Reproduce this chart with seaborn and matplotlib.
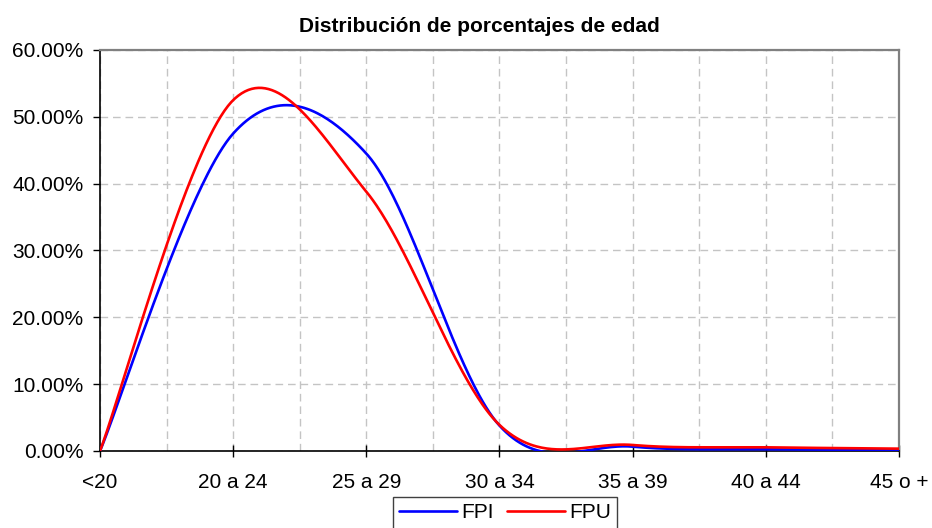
import numpy as np
import pandas as pd
import matplotlib
matplotlib.use("Agg")
import matplotlib.pyplot as plt
import seaborn as sns
from matplotlib.ticker import FixedLocator, MultipleLocator, FuncFormatter

# ---- data ----
categories = ["<20", "20 a 24", "25 a 29", "30 a 34", "35 a 39", "40 a 44", "45 o +"]
fpi = [0.0, 47.5, 44.5, 3.8, 0.65, 0.25, 0.2]
fpu = [0.0, 52.5, 38.8, 3.9, 0.9, 0.55, 0.35]
y_ticks = [0, 10, 20, 30, 40, 50, 60]
title = "Distribución de porcentajes de edad"
series_names = ["FPI", "FPU"]
series_colors = {"FPI": "#0000ff", "FPU": "#ff0000"}

sns.set_theme(style="white")
plt.rcParams["font.family"] = ["Liberation Sans", "DejaVu Sans"]
plt.rcParams["text.color"] = "black"
plt.rcParams["axes.labelcolor"] = "black"
plt.rcParams["xtick.color"] = "black"
plt.rcParams["ytick.color"] = "black"

fig = plt.figure(figsize=(9.32, 5.28), dpi=100)
ax = fig.add_axes([100 / 932, 77 / 528, 799 / 932, 401 / 528])
ax.set_xlim(0, len(categories) - 1)
ax.set_ylim(y_ticks[0], y_ticks[-1])


def excel_smooth(xs, ys, n=80):
    """Excel-style smoothed line: cubic Bezier per segment with 1/6 handles
    computed in display space, handles capped at half the segment length."""
    pts = ax.transData.transform(np.column_stack([xs, ys]).astype(float))
    m = len(pts)
    out = []
    for i in range(m - 1):
        p0 = pts[max(i - 1, 0)]
        p1 = pts[i]
        p2 = pts[i + 1]
        p3 = pts[min(i + 2, m - 1)]
        seg = np.linalg.norm(p2 - p1)
        h1 = (p2 - p0) / 6.0
        h2 = (p3 - p1) / 6.0
        for h in (h1, h2):
            ln = np.linalg.norm(h)
            if ln > seg / 2 and ln > 0:
                h *= (seg / 2) / ln
        c1 = p1 + h1
        c2 = p2 - h2
        t = np.linspace(0, 1, n)[:, None]
        if i < m - 2:
            t = t[:-1]
        b = ((1 - t) ** 3) * p1 + 3 * ((1 - t) ** 2) * t * c1 + 3 * (1 - t) * t ** 2 * c2 + t ** 3 * p2
        out.append(b)
    curve = np.vstack(out)
    return ax.transData.inverted().transform(curve)


frames = []
for name, vals in zip(series_names, [fpi, fpu]):
    c = excel_smooth(np.arange(len(categories)), vals)
    frames.append(pd.DataFrame({"x": c[:, 0], "y": c[:, 1], "series": name,
                                "order": np.arange(len(c))}))
df = pd.concat(frames, ignore_index=True)

sns.lineplot(data=df, x="x", y="y", hue="series", units="series", estimator=None,
             sort=False, palette=series_colors, hue_order=series_names,
             linewidth=1.9, legend=False, ax=ax, zorder=3)
handles = list(ax.get_lines()[:2])

ax.set_xlabel("")
ax.set_ylabel("")
ax.set_xlim(0, len(categories) - 1)
ax.set_ylim(y_ticks[0], y_ticks[-1])

# ticks
ax.xaxis.set_major_locator(FixedLocator(range(len(categories))))
ax.set_xticklabels(categories)
ax.xaxis.set_minor_locator(MultipleLocator(0.5))
ax.yaxis.set_major_locator(FixedLocator(y_ticks))
ax.yaxis.set_major_formatter(FuncFormatter(lambda v, p: f"{v:.2f}%"))
ax.tick_params(axis="x", which="major", bottom=True, direction="inout", length=9,
               width=1, pad=11, labelsize=15, colors="black")
ax.tick_params(axis="x", which="minor", bottom=True, length=0)
ax.tick_params(axis="y", which="major", left=True, direction="out", length=5,
               width=1, pad=7, labelsize=15, colors="black")

# grid
grid_kw = dict(color="#c4c4c4", linewidth=1.0, linestyle=(0, (5.5, 3.5)))
ax.grid(True, axis="x", which="both", **grid_kw)
ax.grid(True, axis="y", which="major", **grid_kw)
ax.set_axisbelow(True)

# spines
for s in ["top", "right"]:
    ax.spines[s].set_color("#808080")
    ax.spines[s].set_linewidth(1.6)
for s in ["left", "bottom"]:
    ax.spines[s].set_color("black")
    ax.spines[s].set_linewidth(1.2)

fig.text(479 / 932, 1 - 27 / 528, title, ha="center", va="center",
         fontsize=15, fontweight="bold")

leg = fig.legend(handles, series_names, loc="upper center",
                 bbox_to_anchor=(505 / 932, 1 - 497 / 528), ncol=2, frameon=True,
                 fancybox=False, shadow=False, edgecolor="#404040", fontsize=15,
                 handlelength=2.8, handletextpad=0.2, columnspacing=0.6,
                 borderpad=0.3, borderaxespad=0)
leg.get_frame().set_linewidth(1.0)
leg.get_frame().set_facecolor("white")
leg.get_frame().set_alpha(1)

fig.savefig("out.png", dpi=100)
